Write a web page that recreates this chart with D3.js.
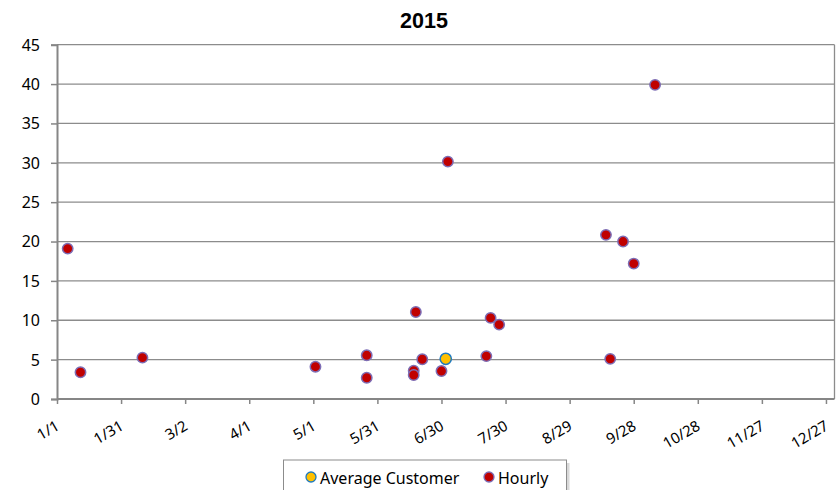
<!DOCTYPE html>
<html><head><meta charset="utf-8">
<script src="https://cdn.jsdelivr.net/npm/d3@7"></script>
<style>body{margin:0;background:#fff}svg{display:block}</style>
</head><body>
<script>
const title = "2015";
const hourlyDates = ["2015-01-06","2015-01-12","2015-02-10","2015-05-02","2015-05-26","2015-05-26","2015-06-18","2015-06-17","2015-06-17","2015-06-21","2015-06-30","2015-07-03","2015-07-21","2015-07-23","2015-07-27","2015-09-15","2015-09-23","2015-09-28","2015-09-17","2015-10-08"];
const hourlyValues = [19.1,3.4,5.25,4.1,5.55,2.7,11.05,3.6,3.05,5.05,3.55,30.15,5.45,10.3,9.45,20.85,20.0,17.2,5.1,39.9];
const avgDates = ["2015-07-02"];
const avgValues = [5.1];
const xTickLabels = ["1/1","1/31","3/2","4/1","5/1","5/31","6/30","7/30","8/29","9/28","10/28","11/27","12/27"];
const yTicks = [0,5,10,15,20,25,30,35,40,45];
const seriesNames = ["Average Customer","Hourly"];

const W = 837, H = 490;
const parse = d3.utcParse("%Y-%m-%d");
const start = parse("2015-01-01"), end = parse("2015-12-31");
const svg = d3.select("body").append("svg").attr("width",W).attr("height",H);
const FONT = "Noto Sans, Open Sans, sans-serif";

const x = d3.scaleUtc().domain([start,end]).range([57,834.5]);
const y = d3.scaleLinear().domain([0,45]).range([399,44.7]);
const tickDates = xTickLabels.map((l,i)=>d3.utcDay.offset(start, i*30));

// title
svg.append("text").attr("x",424).attr("y",27.5).attr("text-anchor","middle")
  .attr("font-family","Liberation Sans, Arial, sans-serif").attr("font-weight","bold").attr("font-size",21.5)
  .text(title);

// gridlines
svg.append("g").selectAll("line").data(yTicks.filter(d=>d>0)).join("line")
  .attr("x1",57).attr("x2",834.5).attr("y1",d=>y(d)).attr("y2",d=>y(d))
  .attr("stroke","#8c8c8c").attr("stroke-width",1.3);
svg.append("line").attr("x1",834.5).attr("x2",834.5).attr("y1",y(45)).attr("y2",y(0))
  .attr("stroke","#8c8c8c").attr("stroke-width",1.3);

// y axis
const yAxis = d3.axisLeft(y).tickValues(yTicks).tickSize(6).tickPadding(11);
const gy = svg.append("g").attr("transform","translate(57,0)").call(yAxis);
gy.attr("font-family",FONT).attr("font-size",16);
gy.select(".domain").attr("stroke","#868686").attr("stroke-width",2);
gy.selectAll(".tick line").attr("stroke","#868686").attr("stroke-width",1.5);
gy.selectAll("text").attr("fill","#000").attr("dy","0.34em");

// x axis
const xAxis = d3.axisBottom(x).tickValues(tickDates).tickSize(5).tickFormat((d,i)=>xTickLabels[i]);
const gx = svg.append("g").attr("transform","translate(0,399)").call(xAxis);
gx.attr("font-family",FONT).attr("font-size",15);
gx.select(".domain").attr("stroke","#868686").attr("stroke-width",2).attr("d","M57,0H834.5");
gx.selectAll(".tick line").attr("stroke","#868686").attr("stroke-width",1.5);
gx.selectAll("text").attr("fill","#000")
  .attr("text-anchor","end").attr("dy",0).attr("y",0)
  .attr("transform","translate(3,30) rotate(-30)");

// points
const hourly = hourlyDates.map((d,i)=>({d:parse(d),v:hourlyValues[i]}));
const avg = avgDates.map((d,i)=>({d:parse(d),v:avgValues[i]}));
svg.append("g").selectAll("circle").data(hourly).join("circle")
  .attr("cx",d=>x(d.d)).attr("cy",d=>y(d.v)).attr("r",5.2)
  .attr("fill","#c00000").attr("stroke","#7d6db5").attr("stroke-width",1.5);
svg.append("g").selectAll("circle").data(avg).join("circle")
  .attr("cx",d=>x(d.d)).attr("cy",d=>y(d.v)).attr("r",5.6)
  .attr("fill","#ffc000").attr("stroke","#1f7ac0").attr("stroke-width",1.5);

// legend
const lg = svg.append("g");
lg.append("rect").attr("x",286.5).attr("y",463).attr("width",283).attr("height",40).attr("fill","#c8c8c8").attr("opacity",0.7);
lg.append("rect").attr("x",283.5).attr("y",460).attr("width",283).attr("height",40).attr("fill","#fff").attr("stroke","#8c8c8c").attr("stroke-width",1);
lg.append("circle").attr("cx",311).attr("cy",477).attr("r",5).attr("fill","#ffc000").attr("stroke","#1f7ac0").attr("stroke-width",1.3);
lg.append("text").attr("x",320).attr("y",483.5).attr("font-family",FONT).attr("font-size",16).text(seriesNames[0]);
lg.append("circle").attr("cx",489).attr("cy",477).attr("r",5).attr("fill","#c00000").attr("stroke","#7d6db5").attr("stroke-width",1.3);
lg.append("text").attr("x",498).attr("y",483.5).attr("font-family",FONT).attr("font-size",16).text(seriesNames[1]);
</script>
</body></html>
